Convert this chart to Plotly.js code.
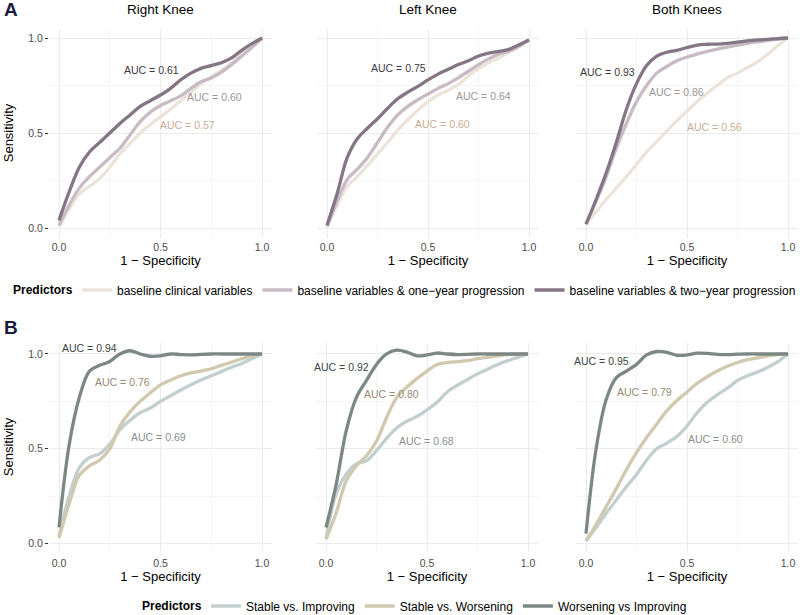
<!DOCTYPE html>
<html>
<head>
<meta charset="utf-8">
<script src="https://cdn.plot.ly/plotly-3.0.1.min.js"></script>
<style>html,body{margin:0;padding:0;background:#fff}#chart{width:800px;height:615px}</style>
</head>
<body>
<div id="chart"></div>
<script>
// ---------- DATA ----------
const fpr = [0,0.05,0.1,0.15,0.2,0.25,0.3,0.35,0.4,0.45,0.5,0.55,0.6,0.65,0.7,0.75,0.8,0.85,0.9,0.95,1];

const panelTitles = ["Right Knee", "Left Knee", "Both Knees"];
const legendTitle = "Predictors";
const seriesA = ["baseline clinical variables", "baseline variables & one\u2212year progression", "baseline variables & two\u2212year progression"];
const seriesB = ["Stable vs. Improving", "Stable vs. Worsening", "Worsening vs Improving"];

// Row A (sensitivity at each fpr)
const rightClinical = [0.005,0.10,0.18,0.22,0.26,0.32,0.39,0.445,0.50,0.545,0.585,0.625,0.67,0.715,0.76,0.795,0.83,0.87,0.915,0.96,1.0];
const rightOneYear  = [0.015,0.12,0.21,0.27,0.32,0.37,0.42,0.49,0.56,0.61,0.645,0.67,0.695,0.735,0.77,0.79,0.82,0.86,0.905,0.95,1.0];
const rightTwoYear  = [0.04,0.19,0.32,0.40,0.45,0.50,0.55,0.595,0.64,0.67,0.70,0.735,0.78,0.815,0.84,0.855,0.87,0.895,0.935,0.97,1.0];

const leftClinical = [0.005,0.12,0.22,0.27,0.33,0.39,0.45,0.515,0.57,0.62,0.665,0.70,0.725,0.755,0.80,0.84,0.87,0.895,0.925,0.955,0.99];
const leftOneYear  = [0.01,0.14,0.255,0.31,0.37,0.45,0.53,0.595,0.64,0.675,0.705,0.735,0.76,0.79,0.825,0.86,0.89,0.915,0.93,0.955,0.99];
const leftTwoYear  = [0.015,0.18,0.37,0.47,0.525,0.575,0.63,0.68,0.715,0.745,0.78,0.81,0.835,0.86,0.88,0.905,0.92,0.93,0.94,0.965,0.99];

const bothClinical = [0.02,0.085,0.15,0.21,0.27,0.335,0.40,0.455,0.51,0.565,0.615,0.665,0.71,0.75,0.79,0.815,0.845,0.875,0.915,0.96,1.0];
const bothOneYear  = [0.02,0.14,0.27,0.42,0.55,0.665,0.75,0.815,0.85,0.88,0.90,0.915,0.93,0.942,0.952,0.962,0.972,0.98,0.987,0.994,1.0];
const bothTwoYear  = [0.02,0.15,0.29,0.45,0.625,0.76,0.855,0.905,0.925,0.935,0.95,0.963,0.967,0.968,0.972,0.978,0.985,0.99,0.993,0.997,1.0];

// Row B
const rightStableImp  = [0.04,0.25,0.40,0.455,0.473,0.525,0.60,0.65,0.69,0.715,0.75,0.78,0.81,0.838,0.863,0.885,0.907,0.93,0.95,0.975,1.0];
const rightStableWors = [0.03,0.21,0.36,0.41,0.44,0.50,0.62,0.695,0.75,0.795,0.837,0.862,0.885,0.90,0.91,0.922,0.94,0.957,0.975,0.99,1.0];
const rightWorsImp    = [0.086,0.52,0.77,0.91,0.94,0.96,1.0,1.017,1.0,0.988,0.99,1.0,0.997,0.995,0.998,1.0,1.0,1.0,1.0,1.0,1.0];

const leftStableImp  = [0.028,0.26,0.366,0.42,0.437,0.49,0.555,0.61,0.645,0.67,0.705,0.745,0.80,0.835,0.865,0.895,0.92,0.945,0.965,0.982,1.0];
const leftStableWors = [0.023,0.16,0.33,0.41,0.463,0.54,0.665,0.77,0.825,0.87,0.91,0.945,0.955,0.96,0.965,0.975,0.982,0.99,0.997,1.0,1.0];
const leftWorsImp    = [0.085,0.31,0.595,0.77,0.86,0.945,1.0,1.02,1.01,0.99,0.995,1.005,1.0,0.997,0.998,1.0,1.0,1.0,1.0,1.0,1.0];

const bothStableImp  = [0.014,0.085,0.16,0.23,0.30,0.365,0.44,0.50,0.53,0.565,0.62,0.69,0.745,0.785,0.82,0.86,0.885,0.905,0.93,0.96,1.0];
const bothStableWors = [0.014,0.10,0.195,0.29,0.39,0.48,0.56,0.63,0.70,0.755,0.80,0.845,0.88,0.91,0.935,0.955,0.97,0.98,0.99,0.997,1.0];
const bothWorsImp    = [0.053,0.50,0.76,0.875,0.91,0.945,0.995,1.013,1.009,0.993,0.995,1.004,1.003,0.998,0.997,0.999,1.0,1.0,1.0,1.0,1.0];

// AUC labels
const aucA = [["0.57","0.60","0.61"],["0.60","0.64","0.75"],["0.56","0.86","0.93"]];
const aucB = [["0.69","0.76","0.94"],["0.68","0.80","0.92"],["0.60","0.79","0.95"]];

// ---------- STYLE / LAYOUT ----------
const colA = ["#ECE3DB", "#C8BBC4", "#857685"];
const txtA = ["#C6AD96", "#9E959C", "#3E3840"];
const colB = ["#C2CFCE", "#D0C9B0", "#7D8786"];
const txtB = ["#8A8E8E", "#978A74", "#3D4544"];

const rowAData = [[rightClinical, rightOneYear, rightTwoYear],[leftClinical, leftOneYear, leftTwoYear],[bothClinical, bothOneYear, bothTwoYear]];
const rowBData = [[rightStableImp, rightStableWors, rightWorsImp],[leftStableImp, leftStableWors, leftWorsImp],[bothStableImp, bothStableWors, bothWorsImp]];

// label positions (data coords) per panel/series
const posA = [[[0.632,0.542],[0.768,0.687],[0.456,0.83]],
              [[0.573,0.55],[0.775,0.695],[0.353,0.84]],
              [[0.635,0.534],[0.446,0.714],[0.108,0.82]]];
const posB = [[[0.49,0.56],[0.314,0.854],[0.149,1.03]],
              [[0.497,0.542],[0.325,0.79],[0.077,0.933]],
              [[0.643,0.552],[0.288,0.80],[0.079,0.965]]];

const W = 800, H = 615;
const xDomA = [[48.85,272.15],[316.9,539.1],[575.9,798.1]];
const xDomB = [[48.85,272.15],[315.9,538.1],[575.9,798.1]];
const yDomA = [28.5,237.5], yRangeA = [-0.05,1.05];
const yDomB = [342.6,551.2], yRangeB = [-0.04,1.06];

const traces = [];
const annotations = [];
const layout = {
  width: W, height: H,
  margin: {l:0,r:0,t:0,b:0, autoexpand: false},
  paper_bgcolor: "#fff", plot_bgcolor: "#fff",
  font: {family: "Liberation Sans, Arial, sans-serif", color: "#000"},
  showlegend: true
};

function axisPair(idx, xd, yd, yr, showY, labStand) {
  const xk = idx === 1 ? "xaxis" : "xaxis" + idx;
  const yk = idx === 1 ? "yaxis" : "yaxis" + idx;
  const grid = {showgrid:true, gridcolor:"#EBEBEB", gridwidth:1};
  layout[xk] = Object.assign({
    domain: [xd[0]/W, xd[1]/W], anchor: "y" + (idx===1?"":idx),
    range: [-0.05, 1.05], tickvals: [0,0.5,1], ticktext: ["0.0","0.5","1.0"],
    ticks: "", zeroline: false, showline: false, ticklabelstandoff: labStand,
    tickfont: {size: 10.5, color: "#4D4D4D"},
    minor: {tickvals: [0.25,0.75], showgrid: true, gridcolor: "#F5F5F5", gridwidth: 1, ticks: ""},
    title: {text: "1 \u2212 Specificity", font: {size: 13, color: "#000"}, standoff: 0},
    fixedrange: true, automargin: false
  }, grid);
  layout[yk] = Object.assign({
    domain: [1 - yd[1]/H, 1 - yd[0]/H], anchor: "x" + (idx===1?"":idx),
    range: yr, tickvals: [0,0.5,1], ticktext: ["0.0","0.5","1.0"],
    showticklabels: showY, ticks: showY ? "outside" : "", ticklen: 3, tickcolor: "#333",
    zeroline: false, showline: false,
    tickfont: {size: 10.5, color: "#4D4D4D"},
    minor: {tickvals: [0.25,0.75], showgrid: true, gridcolor: "#F5F5F5", gridwidth: 1, ticks: ""},
    title: showY ? {text: "Sensitivity", font: {size: 13, color: "#000"}, standoff: 11} : {text: ""},
    fixedrange: true, automargin: false
  }, grid);
}

for (let p = 0; p < 3; p++) {
  const ia = p + 1, ib = p + 4;
  axisPair(ia, xDomA[p], yDomA, yRangeA, p === 0, 2);
  axisPair(ib, xDomB[p], yDomB, yRangeB, p === 0, 4);
  for (let s = 0; s < 3; s++) {
    traces.push({
      type: "scatter", mode: "lines", x: fpr, y: rowAData[p][s],
      xaxis: "x" + (ia===1?"":ia), yaxis: "y" + (ia===1?"":ia),
      line: {color: colA[s], width: 3.3, shape: "spline", smoothing: 1},
      name: seriesA[s], legendgroup: "A" + s, showlegend: p === 0, legend: "legend",
      hoverinfo: "skip"
    });
    annotations.push({
      xref: "x" + (ia===1?"":ia), yref: "y" + (ia===1?"":ia),
      x: posA[p][s][0], y: posA[p][s][1], showarrow: false,
      text: "AUC = " + aucA[p][s], font: {size: 10.5, color: txtA[s]}
    });
  }
  for (let s = 0; s < 3; s++) {
    traces.push({
      type: "scatter", mode: "lines", x: fpr, y: rowBData[p][s],
      xaxis: "x" + ib, yaxis: "y" + ib,
      line: {color: colB[s], width: 3.3, shape: "spline", smoothing: 1},
      name: seriesB[s], legendgroup: "B" + s, showlegend: p === 0, legend: "legend2",
      hoverinfo: "skip"
    });
    annotations.push({
      xref: "x" + ib, yref: "y" + ib,
      x: posB[p][s][0], y: posB[p][s][1], showarrow: false,
      text: "AUC = " + aucB[p][s], font: {size: 10.5, color: txtB[s]}
    });
  }
  annotations.push({
    xref: "x" + (ia===1?"":ia) + " domain", yref: "paper",
    x: 0.5, y: 1 - 9/H, showarrow: false, yanchor: "middle",
    text: panelTitles[p], font: {size: 13.5, color: "#000"}
  });
}

annotations.push({xref:"paper", yref:"paper", x: 11/W, y: 1 - 10/H, showarrow:false, xanchor:"center", yanchor:"middle",
  text:"<b>A</b>", font:{size:19, color:"#1B1B3D"}});
annotations.push({xref:"paper", yref:"paper", x: 11/W, y: 1 - 327/H, showarrow:false, xanchor:"center", yanchor:"middle",
  text:"<b>B</b>", font:{size:19, color:"#1B1B3D"}});

// legend titles (same line as the keys)
const legAY = 290, legBY = 606, legAX = 77, legBX = 206;
annotations.push({xref:"paper", yref:"paper", x: (legAX-2)/W, y: 1 - legAY/H, showarrow:false, xanchor:"right", yanchor:"middle",
  text:"<b>" + legendTitle + "</b>", font:{size:12, color:"#000"}});
annotations.push({xref:"paper", yref:"paper", x: (legBX-2)/W, y: 1 - legBY/H, showarrow:false, xanchor:"right", yanchor:"middle",
  text:"<b>" + legendTitle + "</b>", font:{size:12, color:"#000"}});

layout.annotations = annotations;
layout.legend = {
  orientation: "h", x: legAX/W, y: 1 - legAY/H, xanchor: "left", yanchor: "middle",
  font: {size: 12, color: "#000"},
  itemwidth: 30, bgcolor: "rgba(0,0,0,0)", traceorder: "normal", borderwidth: 0
};
layout.legend2 = {
  orientation: "h", x: legBX/W, y: 1 - legBY/H, xanchor: "left", yanchor: "middle",
  font: {size: 12, color: "#000"},
  itemwidth: 30, bgcolor: "rgba(0,0,0,0)", traceorder: "normal", borderwidth: 0
};

Plotly.newPlot("chart", traces, layout, {staticPlot: true, displayModeBar: false});
</script>
</body>
</html>
